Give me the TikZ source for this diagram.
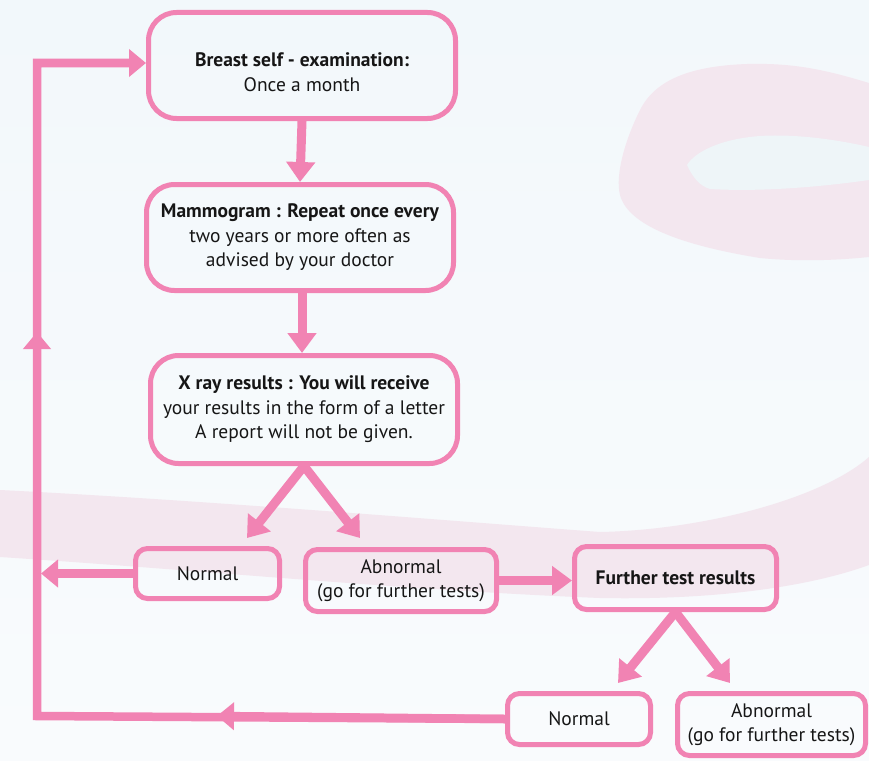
\documentclass[tikz,border=0pt]{standalone}
\usepackage{fontspec}
\setmainfont{PT Sans}
\usetikzlibrary{arrows.meta}
\definecolor{pk}{RGB}{241,131,179}
\definecolor{bgtop}{RGB}{242,248,251}
\definecolor{bgbot}{RGB}{249,251,253}
\definecolor{rib}{RGB}{243,231,239}
\definecolor{hole}{RGB}{238,245,248}
\definecolor{txt}{RGB}{22,22,22}
\begin{document}
\begin{tikzpicture}[x=1pt,y=-1pt,
  boxtext/.style={align=center, text=txt, inner sep=0pt, font=\fontsize{19.5}{24.5}\selectfont},
  box/.style={boxtext, draw=pk, line width=5pt, rounded corners=28pt},
  bigbox/.style={box, minimum width=307pt, minimum height=106pt},
  smallbox/.style={box, rounded corners=12pt},
  arr/.style={draw=pk, line width=9pt, -{Triangle[width=28pt,length=20pt]}},
  loopl/.style={draw=pk, line width=8.5pt, line join=miter},
  looparr/.style={loopl, -{Triangle[width=27pt,length=17pt]}}
]
\useasboundingbox (0,0) rectangle (869,760);
\shade[top color=bgtop, bottom color=bgbot] (0,0) rectangle (869,760);
% ribbon
\fill[rib] (0,490) .. controls (200,500) and (440,520) .. (600,532)
  .. controls (700,530) and (820,500) .. (869,457) -- (869,565)
  .. controls (800,590) and (700,600) .. (600,598)
  .. controls (400,590) and (200,570) .. (0,557) -- cycle;
\fill[rib] (869,83) .. controls (820,68) and (790,63) .. (747,64)
  .. controls (690,66) and (655,80) .. (640,110)
  .. controls (625,140) and (615,175) .. (620,195)
  .. controls (628,225) and (680,245) .. (760,258)
  .. controls (800,262) and (840,260) .. (869,257) -- cycle;
\fill[hole] (869,147) .. controls (830,138) and (790,134) .. (760,136)
  .. controls (720,139) and (695,152) .. (687,165)
  .. controls (693,178) and (700,186) .. (710,189)
  .. controls (760,192) and (820,187) .. (869,180) -- cycle;

% boxes
\node[bigbox] (b1) at (302,65.5) {};
\node[boxtext] (b1t) at ([yshift=-6.5pt]b1.center) {\textbf{Breast self - examination:}\\Once a month};
\node[bigbox] (b2) at (300,237.5) {\textbf{Mammogram : Repeat once every}\\two years or more often as\\advised by your doctor};
\node[bigbox, minimum height=108pt] (b3) at (304,409.5) {\textbf{X ray results : You will receive}\\your results in the form of a letter\\A report will not be given.};
\node[smallbox, minimum width=144pt, minimum height=50pt] (n1) at (207.5,573.5) {Normal};
\node[smallbox, minimum width=191pt, minimum height=62pt] (a1) at (401,580.5) {Abnormal\\(go for further tests)};
\node[smallbox, minimum width=202pt, minimum height=63pt] (f) at (675.5,578) {\textbf{Further test results}};
\node[smallbox, minimum width=143pt, minimum height=51pt] (n2) at (579,719) {Normal};
\node[smallbox, minimum width=188pt, minimum height=62pt] (a2) at (771.5,724.5) {Abnormal\\(go for further tests)};

% coordinates
\coordinate (t1) at (247,538);
\coordinate (t2) at (360,538);
\coordinate (t3) at (618,683);
\coordinate (t4) at (730,683);
\coordinate (cl) at (37,716);
\coordinate (ct) at (37,63);
\coordinate (m1) at (217,716);
\coordinate (m2) at (37,332);
\coordinate (j1) at (41,577);

% main arrows
\draw[arr] (b1.south) -- (b2.north);
\draw[arr] ([xshift=2pt]b2.south) -- ([xshift=-2pt]b3.north);
\draw[arr] (b3.south) -- (t1);
\draw[arr] (b3.south) -- (t2);
\draw[arr] (a1.east) -- (a1.east -| f.west);
\draw[arr] (f.south) -- (t3);
\draw[arr] (f.south) -- (t4);

% loop back
\draw[loopl] (n2.west) -- (cl) -- (ct) -- ([xshift=-15pt]b1.west |- ct);
\draw[looparr] (ct) -- (ct -| b1.west);
\draw[looparr] (n2.west) -- (m1);
\draw[looparr] (cl) -- (m2);
\draw[looparr] (n1.west) -- (n1.west -| j1);
\end{tikzpicture}
\end{document}
